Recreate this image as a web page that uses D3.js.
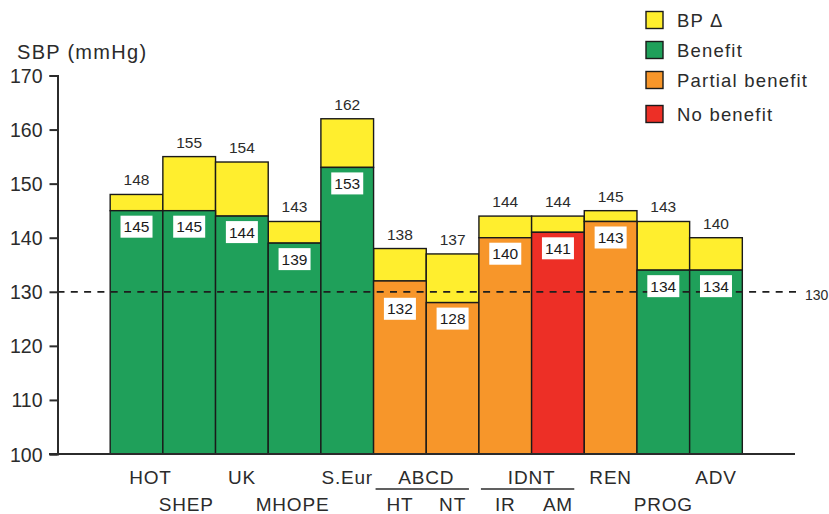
<!DOCTYPE html>
<html>
<head>
<meta charset="utf-8">
<script src="https://cdn.jsdelivr.net/npm/d3@7"></script>
<style>
  html, body { margin: 0; padding: 0; background: #fff; }
  svg { display: block; font-family: "Liberation Sans", Arial, Helvetica, sans-serif; }
</style>
</head>
<body>
<svg id="chart" width="829" height="514"></svg>
<script>
// Trials, achieved SBP and baseline-to-achieved SBP difference
const trials   = ["HOT", "SHEP", "UK", "MHOPE", "S.Eur", "HT", "NT", "IR", "AM", "REN", "PROG", "ADV"];
const achieved = [145, 145, 144, 139, 153, 132, 128, 140, 141, 143, 134, 134];
const baseline = [148, 155, 154, 143, 162, 138, 137, 144, 144, 145, 143, 140];
const outcome  = ["Benefit", "Benefit", "Benefit", "Benefit", "Benefit",
                  "Partial benefit", "Partial benefit", "Partial benefit",
                  "No benefit", "Partial benefit", "Benefit", "Benefit"];
const labelRow = [0, 1, 0, 1, 0, 1, 1, 1, 1, 0, 1, 0];

// Trial groups shown with a bracket line under a shared name
const groupNames   = ["ABCD", "IDNT"];
const groupMembers = [["HT", "NT"], ["IR", "AM"]];

const legendItems = ["BP Δ", "Benefit", "Partial benefit", "No benefit"];
const yTicks = [100, 110, 120, 130, 140, 150, 160, 170];
const targetSBP = 130;

const colors = {
  "BP Δ": "#ffee2e",
  "Benefit": "#1fa05a",
  "Partial benefit": "#f7962a",
  "No benefit": "#ed2f26"
};
const ink = "#2b2b2b";

const svg = d3.select("#chart");

const x = d3.scaleBand()
  .domain(trials)
  .range([57.5, 795])
  .paddingInner(0)
  .paddingOuter(1);

const y = d3.scaleLinear()
  .domain([100, 170])
  .range([454, 75.5]);

const rows = trials.map((t, i) => ({
  trial: t, low: achieved[i], high: baseline[i], outcome: outcome[i], row: labelRow[i]
}));

// Bars: coloured part up to achieved SBP, yellow part for the BP difference
const bars = svg.append("g");
bars.selectAll("rect.delta")
  .data(rows).join("rect")
  .attr("class", "delta")
  .attr("x", d => x(d.trial))
  .attr("width", x.bandwidth())
  .attr("y", d => y(d.high))
  .attr("height", d => y(d.low) - y(d.high))
  .attr("fill", colors["BP Δ"])
  .attr("stroke", "#1a1a1a")
  .attr("stroke-width", 1.4);

bars.selectAll("rect.achieved")
  .data(rows).join("rect")
  .attr("class", "achieved")
  .attr("x", d => x(d.trial))
  .attr("width", x.bandwidth())
  .attr("y", d => y(d.low))
  .attr("height", d => y(100) - y(d.low))
  .attr("fill", d => colors[d.outcome])
  .attr("stroke", "#1a1a1a")
  .attr("stroke-width", 1.4);

// Target line
svg.append("line")
  .attr("x1", 57.5).attr("x2", 800)
  .attr("y1", y(targetSBP)).attr("y2", y(targetSBP))
  .attr("stroke", "#1e1e1e")
  .attr("stroke-width", 1.8)
  .attr("stroke-dasharray", "7,6.3");
svg.append("text")
  .attr("x", 805).attr("y", y(targetSBP) + 8)
  .attr("font-size", 14).attr("fill", ink)
  .text(targetSBP);

// Baseline value above each bar
svg.append("g").selectAll("text")
  .data(rows).join("text")
  .attr("x", d => x(d.trial) + x.bandwidth() / 2)
  .attr("y", d => y(d.high) - 9)
  .attr("text-anchor", "middle")
  .attr("font-size", 15.5).attr("fill", ink)
  .text(d => d.high);

// Achieved value in a white box below the top of the coloured part
const boxW = 32, boxH = 22;
const boxTop = d => {
  const t = y(d.low) + 5;
  // values sitting just above the target line get their box moved below it
  return (d.low > targetSBP && d.low - targetSBP < 3) ? y(targetSBP) + 6 : t;
};
const boxes = svg.append("g").selectAll("g")
  .data(rows).join("g")
  .attr("transform", d => `translate(${x(d.trial) + x.bandwidth() / 2},${boxTop(d)})`);
boxes.append("rect")
  .attr("x", -boxW / 2).attr("y", 0)
  .attr("width", boxW).attr("height", boxH)
  .attr("fill", "#fff");
boxes.append("text")
  .attr("y", 16.5)
  .attr("text-anchor", "middle")
  .attr("font-size", 15.5).attr("fill", "#1a1a1a")
  .text(d => d.low);

// Y axis
const yAxis = d3.axisLeft(y).tickValues(yTicks).tickSize(8).tickPadding(7);
const gy = svg.append("g")
  .attr("transform", "translate(57.5,0)")
  .call(yAxis);
gy.select(".domain").attr("stroke", ink).attr("stroke-width", 2);
gy.selectAll(".tick line").attr("stroke", ink).attr("stroke-width", 2);
gy.selectAll(".tick text")
  .attr("font-size", 19.5).attr("fill", ink)
  .attr("font-family", "Liberation Sans, Arial, sans-serif")
  .attr("dy", "0.36em");

// X axis baseline
svg.append("line")
  .attr("x1", 49).attr("x2", 795)
  .attr("y1", y(100)).attr("y2", y(100))
  .attr("stroke", ink).attr("stroke-width", 2);

svg.append("text")
  .attr("x", 17).attr("y", 59)
  .attr("font-size", 20).attr("fill", ink)
  .attr("letter-spacing", 1.3)
  .text("SBP (mmHg)");

// Trial names in two staggered rows
const rowY = [484, 511];
const labelNudge = { HOT: 14, SHEP: -3, MHOPE: -2 };
const grouped = new Set(groupMembers.flat());
svg.append("g").selectAll("text")
  .data(rows).join("text")
  .attr("x", d => x(d.trial) + x.bandwidth() / 2 + (labelNudge[d.trial] || 0))
  .attr("y", d => grouped.has(d.trial) ? rowY[1] : rowY[d.row])
  .attr("text-anchor", "middle")
  .attr("font-size", 19).attr("fill", ink)
  .attr("letter-spacing", 0.8)
  .text(d => d.trial);

// Group names with bracket line
groupNames.forEach((name, gi) => {
  const members = groupMembers[gi];
  const x0 = x(members[0]);
  const x1 = x(members[members.length - 1]) + x.bandwidth();
  const cx = (x0 + x1) / 2;
  const half = (x1 - x0) / 2 - 6;
  svg.append("text")
    .attr("x", cx).attr("y", rowY[0])
    .attr("text-anchor", "middle")
    .attr("font-size", 19).attr("fill", ink)
    .attr("letter-spacing", 0.8)
    .text(name);
  svg.append("line")
    .attr("x1", cx - half - 4).attr("x2", cx + half - 4)
    .attr("y1", 489).attr("y2", 489)
    .attr("stroke", ink).attr("stroke-width", 1.5);
});

// Legend
const legendY = [20, 50, 80, 114];
const legend = svg.append("g").selectAll("g")
  .data(legendItems).join("g")
  .attr("transform", (d, i) => `translate(646,${legendY[i]})`);
legend.append("rect")
  .attr("x", 0).attr("y", -8.5)
  .attr("width", 17).attr("height", 17)
  .attr("fill", d => colors[d])
  .attr("stroke", "#1a1a1a").attr("stroke-width", 1.4);
legend.append("text")
  .attr("x", 31).attr("y", 7)
  .attr("font-size", 18.5).attr("fill", ink)
  .attr("letter-spacing", 1.2)
  .text(d => d);
</script>
</body>
</html>
